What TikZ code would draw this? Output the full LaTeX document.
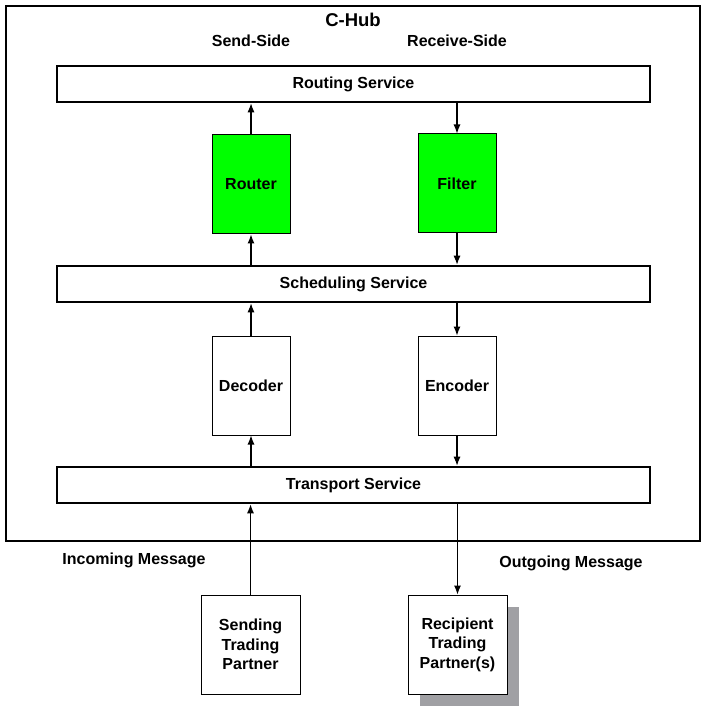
\documentclass[tikz,border=0pt]{standalone}
\usepackage{fontspec}
\setmainfont{Liberation Sans}
\usetikzlibrary{arrows.meta}
\usetikzlibrary{shadows}
\definecolor{boxgreen}{RGB}{0,255,0}
\definecolor{shadowgray}{RGB}{160,160,164}
\tikzset{
  service/.style={draw,line width=2.6pt,minimum width=593,minimum height=36,inner sep=0pt,font=\fontsize{16}{19.5}\selectfont\bfseries},
  unit/.style={draw,line width=1pt,minimum width=78,minimum height=99,inner sep=0pt,font=\fontsize{16}{19.5}\selectfont\bfseries},
  partner/.style={draw,fill=white,line width=1pt,minimum width=99,minimum height=99,inner sep=0pt,align=center,font=\fontsize{16}{19.5}\selectfont\bfseries},
  caption/.style={font=\fontsize{16}{19.5}\selectfont\bfseries},
}
\begin{document}
\begin{tikzpicture}[x=1pt,y=-1pt,>={Latex[length=9pt,width=7pt]},line width=1.1pt]
\useasboundingbox (0,0) rectangle (706,708);
%%
\draw [line width=2.8pt] (6,6) rectangle (700,541);
\node (hub) at (353,20) [font=\fontsize{18.5}{22}\selectfont\bfseries] {C-Hub};
  \node (send_side) at (251,41) [caption] {Send-Side};
  \node (receive_side) at (457,41) [caption] {Receive-Side};
  \node (routing) at (353.5,84) [service] {Routing Service};
  \node (router) at (251,184.5) [unit,fill=boxgreen] {Router};
  \node (filter) at (457,183.5) [unit,fill=boxgreen] {Filter};
  \node (scheduling) at (353.5,284) [service] {Scheduling Service};
  \node (decoder) at (251,385.5) [unit] {Decoder};
  \node (encoder) at (457,385.5) [unit] {Encoder};
  \node (transport) at (353.5,485) [service] {Transport Service};
  \node (incoming) at (134,560) [caption] {Incoming Message};
  \node (outgoing) at (571,563) [caption] {Outgoing Message};
  \node (sending) at (250.5,644.5) [partner] {Sending\\Trading\\Partner};
  \node (recipient) at (457.5,644.5) [partner,drop shadow={shadow xshift=12pt,shadow yshift=-12pt,fill=shadowgray,opacity=1}] {Recipient\\Trading\\Partner(s)};
  \draw [black,->] (router.north) -- (router.north |- routing.south);
  \draw [black,->] (filter.north |- routing.south) -- (filter.north);
  \draw [black,->] (router.south |- scheduling.north) -- (router.south);
  \draw [black,<-] (filter.south |- scheduling.north) -- (filter.south);
  \draw [black,->] (decoder.north) -- (decoder.north |- scheduling.south);
  \draw [black,->] (encoder.north |- scheduling.south) -- (encoder.north);
  \draw [black,<-] (decoder.south) -- (decoder.south |- transport.north);
  \draw [black,->] (encoder.south) -- (encoder.south |- transport.north);
  \draw [black,->] (sending.north) -- (sending.north |- transport.south);
  \draw [black,->] (recipient.north |- transport.south) -- (recipient.north);
%
\end{tikzpicture}
\end{document}
